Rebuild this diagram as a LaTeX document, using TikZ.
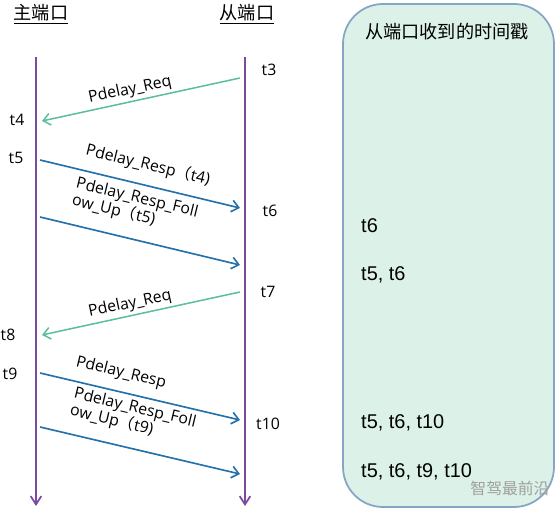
\documentclass[tikz,border=0pt]{standalone}
\usepackage{fontspec}
\setmainfont{Liberation Sans}
\newfontfamily\cjk{Noto Sans CJK SC}
\newfontfamily\msgfont{Open Sans}
\usetikzlibrary{arrows.meta}

\definecolor{lifeline}{HTML}{7B4A9E}
\definecolor{reqcol}{HTML}{5DBE9C}
\definecolor{respcol}{HTML}{2470A8}
\definecolor{boxfill}{HTML}{DCF1E8}
\definecolor{boxline}{HTML}{86A5C4}

\tikzset{
  lifeline/.style={line width=1.5pt,draw=lifeline,-{Straight Barb[length=7pt,width=9pt]}},
  reqmsg/.style={line width=1.3pt,draw=reqcol,-{Straight Barb[length=6pt,width=10pt]}},
  respmsg/.style={line width=1.4pt,draw=respcol,-{Straight Barb[length=6pt,width=10pt]}},
  msglabel/.style={font=\msgfont\fontsize{13.5}{15}\selectfont,inner sep=0pt,align=left},
  tlabel/.style={font=\msgfont\fontsize{13.5}{14}\selectfont,inner sep=0pt},
  stamp/.style={font=\fontsize{17}{18}\selectfont,inner sep=0pt,anchor=west},
  header/.style={font=\cjk\fontsize{15.5}{17}\selectfont,inner sep=0pt}
}

\begin{document}
\begin{tikzpicture}[x=0.03cm,y=-0.03cm]
    \useasboundingbox (0,0) rectangle (558,513);

    % timestamp box on the right
    \draw[fill=boxfill,draw=boxline,line width=1.5pt,rounded corners=1.2cm]
        (343,4) rectangle (554,507);
    \node[header] (boxtitle) at (447,32) {从端口收到的时间戳};
    \node[stamp] (rx1) at (361,226) {t6};
    \node[stamp] (rx2) at (361,275) {t5, t6};
    \node[stamp] (rx3) at (361,423) {t5, t6, t10};
    \node[stamp] (rx4) at (361,472) {t5, t6, t9, t10};
    \node[font=\cjk\fontsize{13.5}{14}\selectfont,text=gray!75,inner sep=0pt] (wm) at (510,488) {智驾最前沿};

    % the two ports and their time lines
    \node[header] (master) at (41,14) {\underline{主端口}};
    \node[header] (slave) at (247,14) {\underline{从端口}};
    \coordinate (mtop) at (36,57);
    \coordinate (mbot) at (36,506);
    \coordinate (stop) at (245,57);
    \coordinate (sbot) at (245,506);
    \draw[lifeline] (mtop) -- (mbot);
    \draw[lifeline] (stop) -- (sbot);

    % end points of the messages
    \coordinate (s3) at (240,78);   \coordinate (m4) at (42,121);
    \coordinate (m5) at (40,160);   \coordinate (s6) at (240,208);
    \coordinate (m5b) at (40,217);  \coordinate (s6b) at (240,265);
    \coordinate (s7) at (240,292);  \coordinate (m8) at (42,335);
    \coordinate (m9) at (40,373);   \coordinate (s10) at (240,420);
    \coordinate (m9b) at (40,427);  \coordinate (s10b) at (240,474);

    % time labels
    \node[tlabel] (t3) at (269,70) {t3};
    \node[tlabel] (t4) at (17,120) {t4};
    \node[tlabel] (t5) at (16,158) {t5};
    \node[tlabel] (t6) at (270,211) {t6};
    \node[tlabel] (t7) at (268,292) {t7};
    \node[tlabel] (t8) at (8,335) {t8};
    \node[tlabel] (t9) at (10,374) {t9};
    \node[tlabel] (t10) at (268,424) {t10};

    % first exchange
    \draw[reqmsg] (s3) -- (m4);
    \node[msglabel,rotate=12] (req1) at (130,90) {Pdelay\_Req};
    \draw[respmsg] (m5) -- (s6);
    \node[msglabel,rotate=-13.5] (resp1) at (148,165) {Pdelay\_Resp{\cjk （}t4)};
    \draw[respmsg] (m5b) -- (s6b);
    \node[msglabel,rotate=-13.5] (fup1) at (135,207) {Pdelay\_Resp\_Foll\\ow\_Up{\cjk （}t5)};

    % second exchange
    \draw[reqmsg] (s7) -- (m8);
    \node[msglabel,rotate=12] (req2) at (130,304) {Pdelay\_Req};
    \draw[respmsg] (m9) -- (s10);
    \node[msglabel,rotate=-13.5] (resp2) at (121,373) {Pdelay\_Resp};
    \draw[respmsg] (m9b) -- (s10b);
    \node[msglabel,rotate=-13.5] (fup2) at (133,417) {Pdelay\_Resp\_Foll\\ow\_Up{\cjk （}t9)};
\end{tikzpicture}
\end{document}
